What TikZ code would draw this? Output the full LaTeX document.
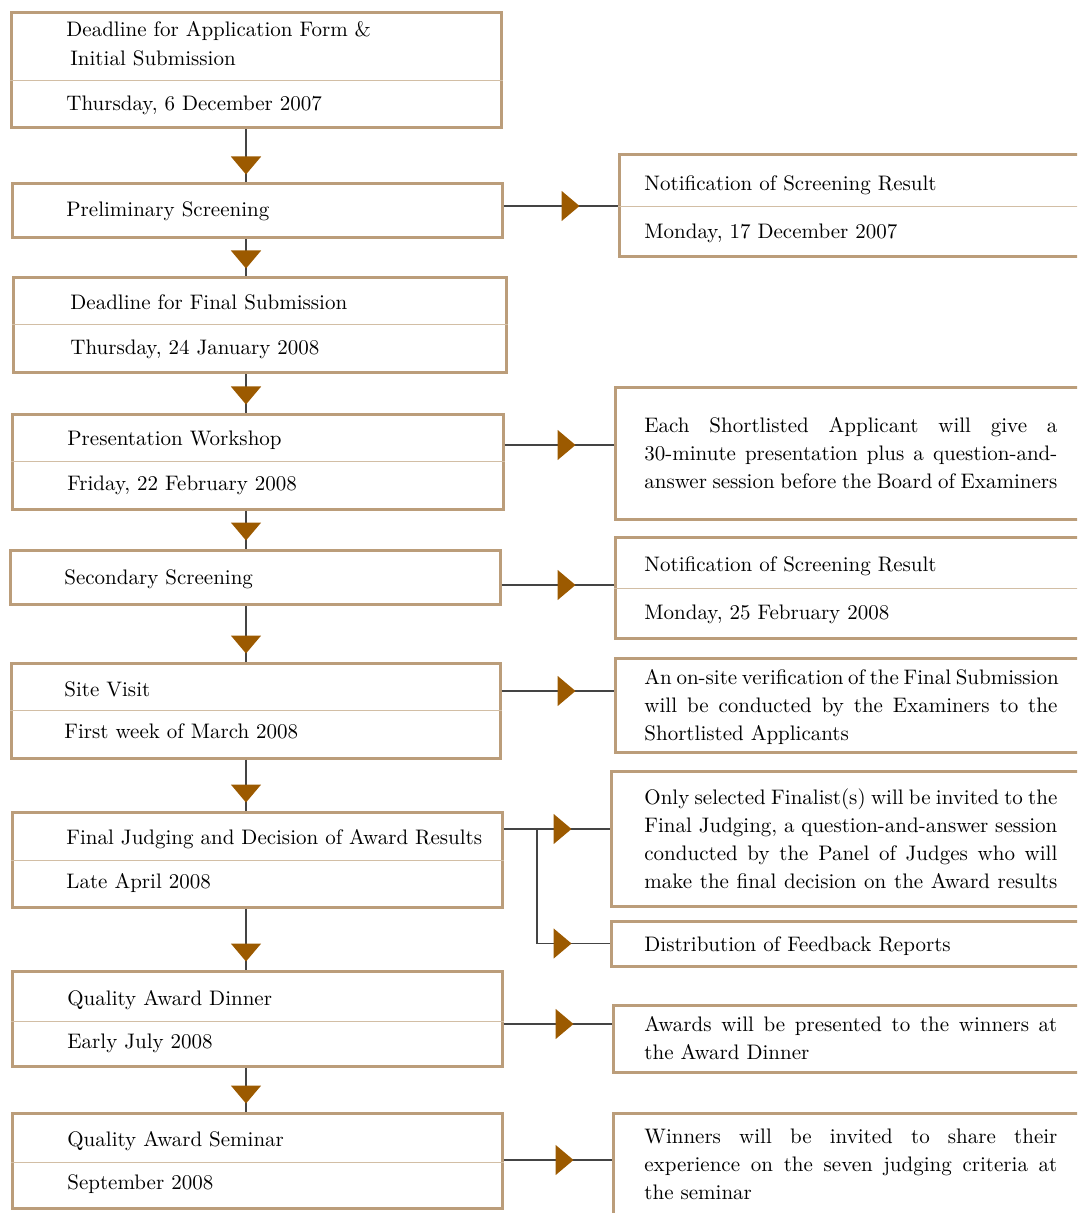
\documentclass[tikz,border=0pt]{standalone}
\usetikzlibrary{positioning,fit,arrows.meta,decorations.markings}

\definecolor{boxtan}{RGB}{187,157,122}
\definecolor{ruletan}{RGB}{210,190,165}
\definecolor{linegray}{RGB}{68,68,68}
\definecolor{tipbrown}{RGB}{156,90,0}

\newlength\parw
\setlength\parw{206.5pt}
\newcommand\jl[1]{\makebox[\parw][s]{#1}}

\tikzset{
  stage/.style={draw=boxtan, line width=1.5pt, fill=white, inner sep=0pt},
  rule/.style={draw=ruletan, line width=0.5pt},
  txt/.style={anchor=base west, inner sep=0pt, font=\fontsize{10.5}{14}\selectfont},
  para/.style={anchor=north west, inner sep=0pt, align=left, font=\fontsize{10.5}{14}\selectfont},
  link/.style={draw=linegray, line width=0.8pt},
  downlink/.style={link, postaction={decorate}, decoration={markings,
      mark=at position -4pt with {\arrow{Triangle[length=9pt,width=15pt,color=tipbrown]}}}},
  sidelink/.style={link, postaction={decorate}, decoration={markings,
      mark=at position -19pt with {\arrow{Triangle[length=9pt,width=15pt,color=tipbrown]}}}},
}

\begin{document}
\begin{tikzpicture}[x=0.5pt,y=-0.5pt]
    \useasboundingbox (0,0) rectangle (1077,1213);
    \clip (0,0) rectangle (1077,1213);

    % stages on the left
    \node[stage, fit={(11,13) (501,128)}] (b1) {};
    \node[stage, fit={(12,184) (502,238)}] (b2) {};
    \node[stage, fit={(13,278) (506,373)}] (b3) {};
    \node[stage, fit={(12,414) (503,509)}] (b4) {};
    \node[stage, fit={(10,550) (500,604)}] (b5) {};
    \node[stage, fit={(11,663) (500,758)}] (b6) {};
    \node[stage, fit={(12,812) (502,907)}] (b7) {};
    \node[stage, fit={(12,971) (502,1066)}] (b8) {};
    \node[stage, fit={(12,1113) (502,1208)}] (b9) {};

    % dividers
    \draw[rule] (b1.west |- 0,81) -- (b1.east |- 0,81);
    \draw[rule] (b3.west |- 0,325) -- (b3.east |- 0,325);
    \draw[rule] (b4.west |- 0,461) -- (b4.east |- 0,461);
    \draw[rule] (b6.west |- 0,710) -- (b6.east |- 0,710);
    \draw[rule] (b7.west |- 0,860) -- (b7.east |- 0,860);
    \draw[rule] (b8.west |- 0,1021) -- (b8.east |- 0,1021);
    \draw[rule] (b9.west |- 0,1162) -- (b9.east |- 0,1162);

    \node[txt] (b1a) at (66,37) {Deadline for Application Form \&};
    \node[txt] (b1b) at (70,66) {Initial Submission};
    \node[txt] (b1c) at (66,111) {Thursday, 6 December 2007};
    \node[txt] (b2a) at (66,217) {Preliminary Screening};
    \node[txt] (b3a) at (70,310) {Deadline for Final Submission};
    \node[txt] (b3b) at (70,355) {Thursday, 24 January 2008};
    \node[txt] (b4a) at (67,445) {Presentation Workshop};
    \node[txt] (b4b) at (67,490) {Friday, 22 February 2008};
    \node[txt] (b5a) at (64,584) {Secondary Screening};
    \node[txt] (b6a) at (64,696) {Site Visit};
    \node[txt] (b6b) at (64,738) {First week of March 2008};
    \node[txt] (b7a) at (66,844) {Final Judging and Decision of Award Results};
    \node[txt] (b7b) at (66,888) {Late April 2008};
    \node[txt] (b8a) at (67,1005) {Quality Award Dinner};
    \node[txt] (b8b) at (67,1048) {Early July 2008};
    \node[txt] (b9a) at (67,1146) {Quality Award Seminar};
    \node[txt] (b9b) at (67,1189) {September 2008};

    % notes on the right
    \node[stage, fit={(619,155) (1090,257)}] (r1) {};
    \node[stage, fit={(615,388) (1090,519)}] (r2) {};
    \node[stage, fit={(615,537) (1090,638)}] (r3) {};
    \node[stage, fit={(615,658) (1090,752)}] (r4) {};
    \node[stage, fit={(611,771) (1090,906)}] (r5) {};
    \node[stage, fit={(611,921) (1090,966)}] (r6) {};
    \node[stage, fit={(613,1005) (1090,1072)}] (r7) {};
    \node[stage, fit={(613,1113) (1090,1240)}] (r8) {};

    \draw[rule] (r1.west |- 0,207) -- (r1.east |- 0,207);
    \draw[rule] (r3.west |- 0,588) -- (r3.east |- 0,588);

    \node[txt] (r1a) at (644,191) {Notification of Screening Result};
    \node[txt] (r1b) at (644,239) {Monday, 17 December 2007};
    \node[para] (r2a) at (644,417) {\jl{Each Shortlisted Applicant will give a}\\
        \jl{30-minute presentation plus a question-and-}\\
        \jl{answer session before the Board of Examiners}};
    \node[txt] (r3a) at (644,571) {Notification of Screening Result};
    \node[txt] (r3b) at (644,619) {Monday, 25 February 2008};
    \node[para] (r4a) at (644,669) {\jl{An on-site verification of the Final Submission}\\
        \jl{will be conducted by the Examiners to the}\\
        Shortlisted Applicants};
    \node[para] (r5a) at (644,788) {\jl{Only selected Finalist(s) will be invited to the}\\
        \jl{Final Judging, a question-and-answer session}\\
        \jl{conducted by the Panel of Judges who will}\\
        \jl{make the final decision on the Award results}};
    \node[txt] (r6a) at (644,951) {Distribution of Feedback Reports};
    \node[para] (r7a) at (644,1016) {\jl{Awards will be presented to the winners at}\\
        the Award Dinner};
    \node[para] (r8a) at (644,1129) {\jl{Winners will be invited to share their}\\
        \jl{experience on the seven judging criteria at}\\
        the seminar};

    % flow down the left
    \coordinate (spine) at (246,0);
    \draw[downlink] (b1.south -| spine) -- (b2.north -| spine);
    \draw[downlink] (b2.south -| spine) -- (b3.north -| spine);
    \draw[downlink] (b3.south -| spine) -- (b4.north -| spine);
    \draw[downlink] (b4.south -| spine) -- (b5.north -| spine);
    \draw[downlink] (b5.south -| spine) -- (b6.north -| spine);
    \draw[downlink] (b6.south -| spine) -- (b7.north -| spine);
    \draw[downlink] (b7.south -| spine) -- (b8.north -| spine);
    \draw[downlink] (b8.south -| spine) -- (b9.north -| spine);

    % links to the notes
    \coordinate (c2) at (0,206);
    \coordinate (c4) at (0,445);
    \coordinate (c5) at (0,585);
    \coordinate (c6) at (0,691);
    \coordinate (c7) at (0,829);
    \coordinate (fork) at (537,829);
    \coordinate (c8) at (0,1024);
    \coordinate (c9) at (0,1160);
    \draw[sidelink] (b2.east |- c2) -- (r1.west |- c2);
    \draw[sidelink] (b4.east |- c4) -- (r2.west |- c4);
    \draw[sidelink] (b5.east |- c5) -- (r3.west |- c5);
    \draw[sidelink] (b6.east |- c6) -- (r4.west |- c6);
    \draw[sidelink] (b7.east |- c7) -- (r5.west |- c7);
    \draw[sidelink] (fork) |- (r6.west);
    \draw[sidelink] (b8.east |- c8) -- (r7.west |- c8);
    \draw[sidelink] (b9.east |- c9) -- (r8.west |- c9);
\end{tikzpicture}
\end{document}
